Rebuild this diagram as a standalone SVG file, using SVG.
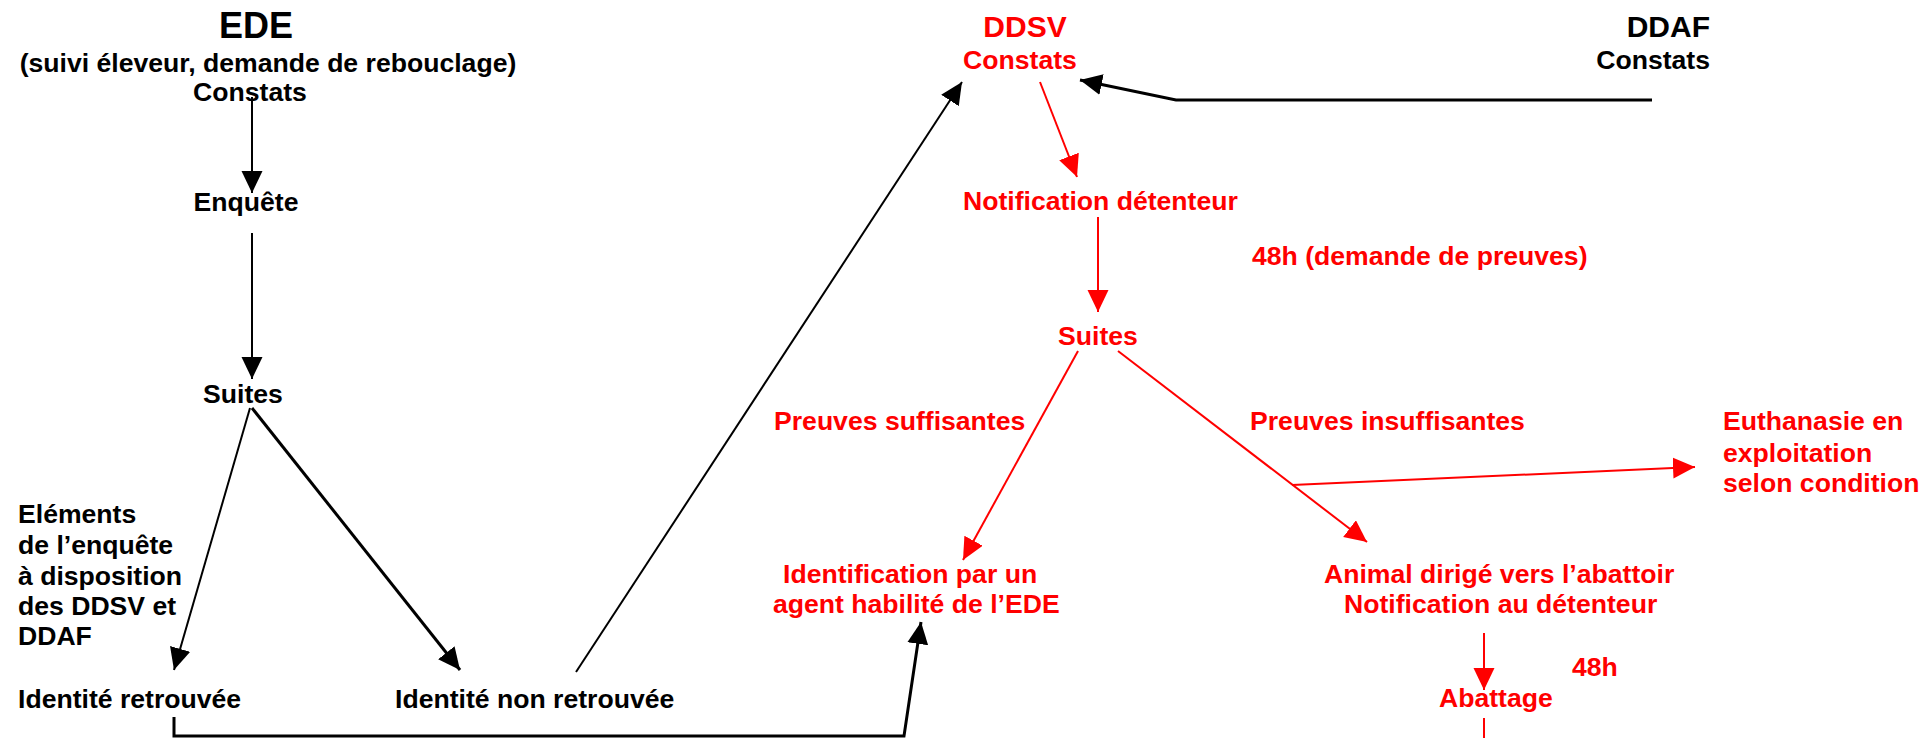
<svg xmlns="http://www.w3.org/2000/svg" width="1932" height="738" viewBox="0 0 1932 738">
<defs>
<marker id="ab" markerUnits="userSpaceOnUse" markerWidth="24" markerHeight="24" refX="22" refY="10.5" orient="auto" viewBox="0 0 24 24"><path d="M0,0 L22,10.5 L0,21 z" fill="#000"/></marker>
<marker id="ar" markerUnits="userSpaceOnUse" markerWidth="24" markerHeight="24" refX="22" refY="10.5" orient="auto" viewBox="0 0 24 24"><path d="M0,0 L22,10.5 L0,21 z" fill="#f00"/></marker>
</defs>
<style>
text{font-family:"Liberation Sans",Arial,sans-serif;font-weight:bold;font-size:26.6px}
.k{fill:#000}
.r{fill:#f00}
.t{font-size:36px}
.t2{font-size:30px}
.m{text-anchor:middle}
.e{text-anchor:end}
.lk{stroke:#000;fill:none}
.lr{stroke:#f00;fill:none;stroke-width:2}
</style>
<rect width="1932" height="738" fill="#fff"/>
<g id="connectors">
<line class="lk" stroke-width="2" x1="252" y1="97" x2="252" y2="193" marker-end="url(#ab)"/>
<line class="lk" stroke-width="2" x1="252" y1="233" x2="252" y2="379" marker-end="url(#ab)"/>
<line class="lk" stroke-width="2" x1="250" y1="408" x2="174" y2="670" marker-end="url(#ab)"/>
<line class="lk" stroke-width="3" x1="252" y1="408" x2="460" y2="670" marker-end="url(#ab)"/>
<line class="lk" stroke-width="2" x1="576" y1="672" x2="962" y2="82" marker-end="url(#ab)"/>
<polyline class="lk" stroke-width="3" points="174,717 174,736 904,736 921,622" marker-end="url(#ab)"/>
<polyline class="lk" stroke-width="3" points="1652,100 1176,100 1080,80" marker-end="url(#ab)"/>
<line class="lr" x1="1040" y1="82" x2="1077" y2="177" marker-end="url(#ar)"/>
<line class="lr" x1="1098" y1="217" x2="1098" y2="312" marker-end="url(#ar)"/>
<line class="lr" x1="1078" y1="351" x2="963" y2="560" marker-end="url(#ar)"/>
<line class="lr" x1="1118" y1="351" x2="1367" y2="542" marker-end="url(#ar)"/>
<line class="lr" x1="1292" y1="485" x2="1695" y2="467" marker-end="url(#ar)"/>
<line class="lr" x1="1484" y1="633" x2="1484" y2="690" marker-end="url(#ar)"/>
<line class="lr" x1="1484" y1="718" x2="1484" y2="738"/>
</g>
<g id="ede">
<text class="k t m" x="256" y="38">EDE</text>
<text class="k m" x="268" y="72">(suivi éleveur, demande de rebouclage)</text>
<text class="k m" x="250" y="101">Constats</text>
</g>
<g id="enquete"><text class="k m" x="246" y="211">Enquête</text></g>
<g id="suites-ede"><text class="k m" x="243" y="403">Suites</text></g>
<g id="elements">
<text class="k" x="18" y="523">Eléments</text>
<text class="k" x="18" y="554">de l’enquête</text>
<text class="k" x="18" y="585">à disposition</text>
<text class="k" x="18" y="615">des DDSV et</text>
<text class="k" x="18" y="645">DDAF</text>
</g>
<g id="identite-retrouvee"><text class="k" x="18" y="708">Identité retrouvée</text></g>
<g id="identite-non-retrouvee"><text class="k" x="395" y="708">Identité non retrouvée</text></g>
<g id="ddsv">
<text class="r t2 m" x="1025" y="37">DDSV</text>
<text class="r m" x="1020" y="69">Constats</text>
</g>
<g id="ddaf">
<text class="k t2 e" x="1710" y="37">DDAF</text>
<text class="k e" x="1710" y="69">Constats</text>
</g>
<g id="notification"><text class="r" x="963" y="210">Notification détenteur</text></g>
<g id="delai48"><text class="r" x="1252" y="265">48h (demande de preuves)</text></g>
<g id="suites-ddsv"><text class="r m" x="1098" y="345">Suites</text></g>
<g id="preuves-suff"><text class="r" x="774" y="430">Preuves suffisantes</text></g>
<g id="preuves-insuff"><text class="r" x="1250" y="430">Preuves insuffisantes</text></g>
<g id="euthanasie">
<text class="r" x="1723" y="430">Euthanasie en</text>
<text class="r" x="1723" y="462">exploitation</text>
<text class="r" x="1723" y="492">selon condition</text>
</g>
<g id="identification">
<text class="r" x="783" y="583">Identification par un</text>
<text class="r" x="773" y="613">agent habilité de l’EDE</text>
</g>
<g id="animal">
<text class="r" x="1324" y="583">Animal dirigé vers l’abattoir</text>
<text class="r" x="1344" y="613">Notification au détenteur</text>
</g>
<g id="delai48b"><text class="r" x="1572" y="676">48h</text></g>
<g id="abattage"><text class="r" x="1439" y="707">Abattage</text></g>
</svg>
